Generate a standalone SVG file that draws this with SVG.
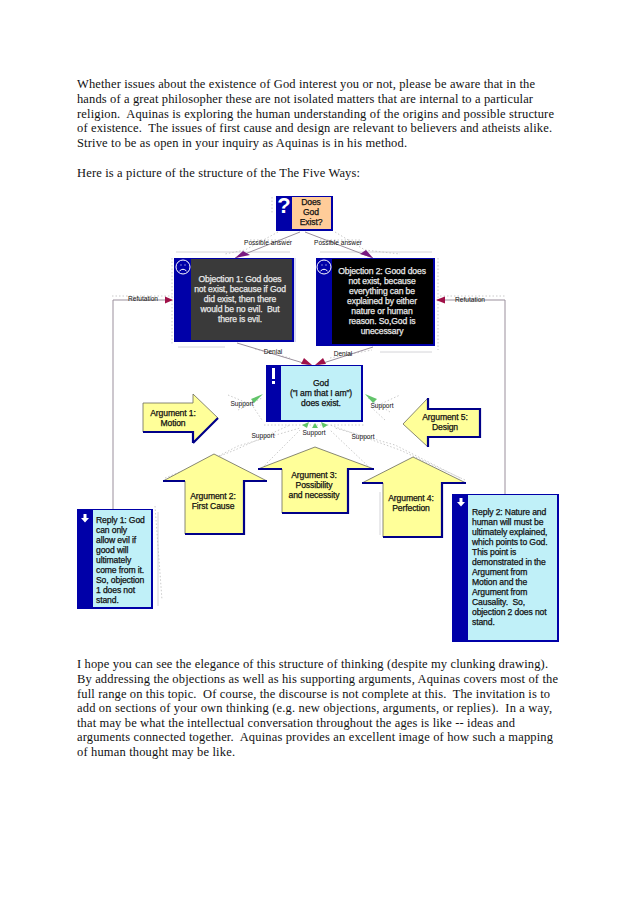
<svg xmlns="http://www.w3.org/2000/svg" width="638" height="903" viewBox="0 0 638 903">
<style>
.p{font:12.5px "Liberation Serif",serif;fill:#111}
.t,.l,.w{font:8.6px "Liberation Sans",Arial,sans-serif;letter-spacing:-.12px;stroke-width:.25px}
.t{fill:#111;stroke:#111;text-anchor:middle}
.l{fill:#111;stroke:#111}
.w{fill:#e8e8e8;stroke:#e8e8e8;text-anchor:middle}
.c{font:6.6px "Liberation Sans",Arial,sans-serif;fill:#111;text-anchor:middle}
.side{fill:#0000a8}
.ar{fill:#ffff99;stroke:#6a6a5a;stroke-width:.8;stroke-linejoin:miter}
.sh{fill:none;stroke:#000088;stroke-width:2.2}
.line{fill:none;stroke:#9a8f9c;stroke-width:1}
.halo{fill:none;stroke:#bdbdbd;stroke-width:.8;stroke-dasharray:1.5 2}
.guide{fill:none;stroke:#d4d4d8;stroke-width:1}
.ic{fill:none;stroke:#fff;stroke-width:1}
</style>
<rect width="638" height="903" fill="#fff"/>
<g id="intro-text">
<text class="p" x="77" y="88" textLength="458" lengthAdjust="spacing">Whether issues about the existence of God interest you or not, please be aware that in the</text>
<text class="p" x="77" y="103" textLength="456" lengthAdjust="spacing">hands of a great philosopher these are not isolated matters that are internal to a particular</text>
<text class="p" x="77" y="118" textLength="477" lengthAdjust="spacing" xml:space="preserve">religion.  Aquinas is exploring the human understanding of the origins and possible structure</text>
<text class="p" x="77" y="132" textLength="475" lengthAdjust="spacing" xml:space="preserve">of existence.  The issues of first cause and design are relevant to believers and atheists alike.</text>
<text class="p" x="77" y="147" textLength="330" lengthAdjust="spacing">Strive to be as open in your inquiry as Aquinas is in his method.</text>
<text class="p" x="77" y="177" textLength="283" lengthAdjust="spacing">Here is a picture of the structure of the The Five Ways:</text>
</g>
<g id="connectors">
<path class="guide" d="M176 252H290M320 252H432M178 347H225M380 352H432M158 512V606M380 492V535"/>
<path class="halo" d="M272 197V214M278 232L245 250 225 254M335 232L365 250 400 254M172 258V345M438 258V350M228 395L252 405 262 420M385 420L372 408 400 395M165 478L235 450 290 425M262 468L300 430M370 468L330 430M465 480L400 450 330 425M155 506L162 600M172 480L238 446 300 428M238 410L262 398M390 412L368 398M460 478L395 445 335 428M112 296H172M440 296H505M250 240H290M320 240H360M255 349L290 358M330 358L372 350M264 425L364 425"/>
<path class="line" d="M300 232L235 258M305 232L373 258M237 343L310 365M373 347L317 365M113 509V300H172M505 494V300H437"/>
<path fill="#7a1a80" d="M235 258L243 251 250 255Z"/>
<path fill="#7a1a80" d="M373 258L360 254 366 250Z"/>
<path fill="#a01048" d="M312 365L301 364 304 358Z"/>
<path fill="#a01048" d="M315 365L326 364 323 358Z"/>
<path fill="#a01048" d="M173 300L165 296.500 165 303.500Z"/>
<path fill="#a01048" d="M436 300L445 296.500 445 303.500Z"/>
<path fill="#62c46a" d="M263 394L251 399 254 403Z"/>
<path fill="#62c46a" d="M365 394L377 399 373 403Z"/>
<path fill="#62c46a" d="M309 422L302 425 307 428Z"/>
<path fill="#62c46a" d="M315 423L312 428 318 428Z"/>
<path fill="#62c46a" d="M321 422L328 425 323 428Z"/>
<text class="c" x="268" y="245">Possible answer</text>
<text class="c" x="338" y="245">Possible answer</text>
<text class="c" x="273" y="354">Denial</text>
<text class="c" x="343" y="356">Denial</text>
<text class="c" x="143" y="301">Refutation</text>
<text class="c" x="470" y="302">Refutation</text>
<text class="c" x="242" y="406">Support</text>
<text class="c" x="382" y="408">Support</text>
<text class="c" x="263" y="438">Support</text>
<text class="c" x="314" y="435">Support</text>
<text class="c" x="363" y="439">Support</text>
</g>
<g id="question">
<rect x="276" y="196" width="57" height="35" class="side"/>
<rect x="292" y="197" width="39" height="32" fill="#ffcc99"/>
<text x="284" y="213" font-family="Liberation Sans, sans-serif" font-weight="bold" font-size="22" fill="#fff" text-anchor="middle">?</text>
<text class="t" x="311" y="205">Does</text><text class="t" x="311" y="215">God</text><text class="t" x="311" y="225">Exist?</text>
</g>
<g id="objection1">
<rect x="174" y="258" width="120" height="84" class="side"/>
<rect x="191" y="259" width="101" height="81" fill="#3a3a3a"/>
<path fill="none" stroke="#b4b8e8" d="M295 258V342"/>
<circle cx="183" cy="267" r="7" class="ic"/><path class="ic" d="M179.500 271Q183 267.500 186.500 271M180.500 265h1M184.500 265h1"/>
<text class="w" x="240" y="282">Objection 1: God does</text>
<text class="w" x="240" y="292">not exist, because if God</text>
<text class="w" x="240" y="302">did exist, then there</text>
<text class="w" x="240" y="312" xml:space="preserve">would be no evil.  But</text>
<text class="w" x="240" y="322">there is evil.</text>
</g>
<g id="objection2">
<rect x="316" y="258" width="119" height="88" class="side"/>
<rect x="332" y="259" width="101" height="85" fill="#000"/>
<circle cx="324" cy="267" r="7" class="ic"/><path class="ic" d="M320.500 271Q324 267.500 327.500 271M321.500 265h1M325.500 265h1"/>
<text class="w" x="382" y="274">Objection 2: Good does</text>
<text class="w" x="382" y="284">not exist, because</text>
<text class="w" x="382" y="294">everything can be</text>
<text class="w" x="382" y="304">explained by either</text>
<text class="w" x="382" y="314">nature or human</text>
<text class="w" x="382" y="324">reason. So,God is</text>
<text class="w" x="382" y="334">unecessary</text>
</g>
<g id="god">
<rect x="266" y="365" width="97" height="57" class="side"/>
<rect x="281" y="366" width="80" height="54" fill="#c0f0f8"/>
<rect x="272" y="368" width="3" height="11" fill="#fff"/><rect x="272" y="381" width="3" height="3" fill="#fff"/>
<text class="t" x="321" y="385.500">God</text><text class="t" x="321" y="395.500">("I am that I am")</text><text class="t" x="321" y="405.500">does exist.</text>
</g>
<g id="argument1">
<path class="ar" d="M143 403H193V394L218 418 193 443V432H143Z"/>
<path class="sh" d="M143 432H193V443M193 443L218 418"/>
<text class="t" x="173" y="415.500">Argument 1:</text><text class="t" x="173" y="425.500">Motion</text>
</g>
<g id="argument5">
<path class="ar" d="M480 409H428V398L403 424 428 447V437H480Z"/>
<path class="sh" d="M428 398V409H480V437H428V447"/>
<text class="t" x="445" y="419.500">Argument 5:</text><text class="t" x="445" y="429.500">Design</text>
</g>
<g id="argument2">
<path class="ar" d="M214 454L267 481H244V534H185V481H163Z"/>
<path class="sh" d="M163 481H185M185 534H244V481H267"/>
<text class="t" x="213" y="498.500">Argument 2:</text><text class="t" x="213" y="508.500">First Cause</text>
</g>
<g id="argument4">
<path class="ar" d="M413 457L466 483H442V537H383V483H362Z"/>
<path class="sh" d="M362 483H383M383 537H442V483H466"/>
<text class="t" x="411" y="500.500">Argument 4:</text><text class="t" x="411" y="510.500">Perfection</text>
</g>
<g id="argument3">
<path class="ar" d="M315 447L374 469H348V513H282V469H258Z"/>
<path class="sh" d="M258 469H282M282 513H348V469H374"/>
<text class="t" x="314" y="477.500">Argument 3:</text><text class="t" x="314" y="487.500">Possibility</text><text class="t" x="314" y="497.500">and necessity</text>
</g>
<g id="reply1">
<rect x="77" y="509" width="76" height="100" class="side"/>
<rect x="93" y="510" width="58" height="97" fill="#c0f0f8"/>
<path fill="#fff" d="M83.500 514h3v4h2.500L85 522.500 81 518h2.500Z"/>
<text class="l" x="96" y="522.500">Reply 1: God</text>
<text class="l" x="96" y="532.500">can only</text>
<text class="l" x="96" y="542.500">allow evil if</text>
<text class="l" x="96" y="552.500">good will</text>
<text class="l" x="96" y="562.500">ultimately</text>
<text class="l" x="96" y="572.500">come from it.</text>
<text class="l" x="96" y="582.500">So, objection</text>
<text class="l" x="96" y="592.500">1 does not</text>
<text class="l" x="96" y="602.500">stand.</text>
</g>
<g id="reply2">
<rect x="452" y="494" width="107" height="148" class="side"/>
<rect x="468" y="495" width="89" height="145" fill="#c0f0f8"/>
<path fill="#fff" d="M459.500 498h3v4h2.500L461 506.500 457 502h2.500Z"/>
<text class="l" x="472" y="515">Reply 2: Nature and</text>
<text class="l" x="472" y="525">human will must be</text>
<text class="l" x="472" y="535">ultimately explained,</text>
<text class="l" x="472" y="545">which points to God.</text>
<text class="l" x="472" y="555">This point is</text>
<text class="l" x="472" y="565">demonstrated in the</text>
<text class="l" x="472" y="575">Argument from</text>
<text class="l" x="472" y="585">Motion and the</text>
<text class="l" x="472" y="595">Argument from</text>
<text class="l" x="472" y="605" xml:space="preserve">Causality.  So,</text>
<text class="l" x="472" y="615">objection 2 does not</text>
<text class="l" x="472" y="625">stand.</text>
</g>
<g id="closing-text">
<text class="p" x="77" y="668" textLength="471" lengthAdjust="spacing">I hope you can see the elegance of this structure of thinking (despite my clunking drawing).</text>
<text class="p" x="77" y="683" textLength="481" lengthAdjust="spacing">By addressing the objections as well as his supporting arguments, Aquinas covers most of the</text>
<text class="p" x="77" y="698" textLength="473" lengthAdjust="spacing" xml:space="preserve">full range on this topic.  Of course, the discourse is not complete at this.  The invitation is to</text>
<text class="p" x="77" y="712" textLength="475" lengthAdjust="spacing" xml:space="preserve">add on sections of your own thinking (e.g. new objections, arguments, or replies).  In a way,</text>
<text class="p" x="77" y="727" textLength="438" lengthAdjust="spacing">that may be what the intellectual conversation throughout the ages is like -- ideas and</text>
<text class="p" x="77" y="741" textLength="476" lengthAdjust="spacing" xml:space="preserve">arguments connected together.  Aquinas provides an excellent image of how such a mapping</text>
<text class="p" x="77" y="756" textLength="158" lengthAdjust="spacing">of human thought may be like.</text>
</g>
</svg>
